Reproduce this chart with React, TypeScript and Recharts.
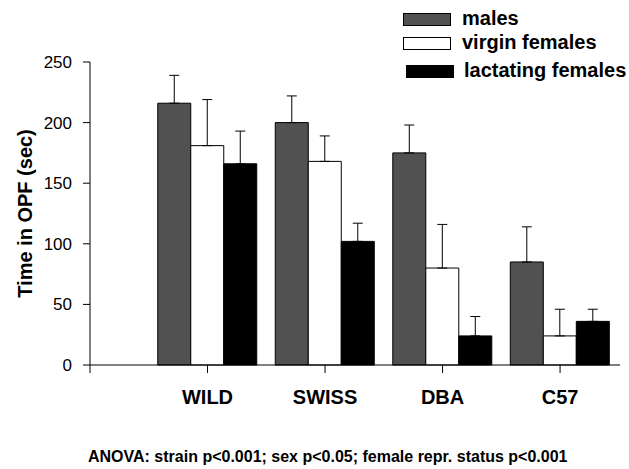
import React from "react"
import { BarChart, Bar, XAxis, YAxis, ErrorBar } from "recharts"

// strains along the x axis (0 is the empty slot at the axis start)
const strains = ["", "WILD", "SWISS", "DBA", "C57"]
const strainPos = [1, 2, 3, 4]

// mean time in OPF (sec)
const males = [216, 200, 175, 85]
const virginFemales = [181, 168, 80, 24]
const lactatingFemales = [166, 102, 24, 36]

// upper SEM bars
const malesErr = [23, 22, 23, 29]
const virginErr = [38, 21, 36, 22]
const lactatingErr = [27, 15, 16, 10]

const yTicks = [0, 50, 100, 150, 200, 250]
const xTicks = [0, 1, 2, 3, 4]

const data = strainPos.map((x, i) => ({
  x,
  males: males[i],
  virgin: virginFemales[i],
  lactating: lactatingFemales[i],
  malesErr: [0, malesErr[i]],
  virginErr: [0, virginErr[i]],
  lactatingErr: [0, lactatingErr[i]],
}))

const MALE_FILL = "#515151"
const font = "'Liberation Sans', Arial, Helvetica, sans-serif"

const legendRows = [
  { label: "males", fill: MALE_FILL, top: 13, left: 0, textLeft: 59 },
  { label: "virgin females", fill: "#fff", top: 37, left: 0, textLeft: 59 },
  { label: "lactating females", fill: "#000", top: 65, left: 3, textLeft: 61 },
]

// legend drawn as an overlay so it doesn't eat into the plot area
function LegendBox() {
  return (
    <div style={{ position: "absolute", left: 403, top: 0, width: 226, height: 90, fontFamily: font }}>
      {legendRows.map((r) => (
        <div key={r.label}>
          <div
            style={{
              position: "absolute",
              left: r.left,
              top: r.top,
              width: 46,
              height: 11,
              background: r.fill,
              border: "1px solid #000",
            }}
          />
          <div
            style={{
              position: "absolute",
              left: r.textLeft,
              top: r.top - 5,
              fontSize: 20,
              lineHeight: "20px",
              fontWeight: "bold",
              color: "#000",
              whiteSpace: "nowrap",
            }}
          >
            {r.label}
          </div>
        </div>
      ))}
    </div>
  )
}

export default function App() {
  return (
    <div style={{ position: "absolute", left: 0, top: 0, width: 629, height: 469, background: "#fff", fontFamily: font }}>
      <BarChart
        width={629}
        height={469}
        data={data}
        margin={{ top: 62, right: 9, bottom: 74, left: 0 }}
        barGap={0}
        barSize={33}
      >
        <XAxis
          dataKey="x"
          type="number"
          domain={[0, 4.51]}
          ticks={xTicks}
          interval={0}
          tickFormatter={(v: number) => strains[v] ?? ""}
          stroke="#000"
          tickSize={8}
          tickMargin={17}
          tick={{ fontSize: 20, fontWeight: "bold", fill: "#000", fontFamily: font }}
        />
        <YAxis
          domain={[0, 250]}
          ticks={yTicks}
          width={90}
          stroke="#000"
          tickSize={7}
          tickMargin={11}
          tick={{ fontSize: 17, fill: "#000", fontFamily: font }}
          label={{
            value: "Time in OPF (sec)",
            angle: -90,
            position: "insideLeft",
            offset: 25,
            style: { textAnchor: "middle", fontSize: 20, fontWeight: "bold", fill: "#000", fontFamily: font },
          }}
        />
        <Bar dataKey="males" name="males" fill={MALE_FILL} stroke="#000" strokeWidth={1} isAnimationActive={false}>
          <ErrorBar dataKey="malesErr" width={5} stroke="#000" strokeWidth={1} />
        </Bar>
        <Bar dataKey="virgin" name="virgin females" fill="#fff" stroke="#000" strokeWidth={1} isAnimationActive={false}>
          <ErrorBar dataKey="virginErr" width={5} stroke="#000" strokeWidth={1} />
        </Bar>
        <Bar dataKey="lactating" name="lactating females" fill="#000" stroke="#000" strokeWidth={1} isAnimationActive={false}>
          <ErrorBar dataKey="lactatingErr" width={5} stroke="#000" strokeWidth={1} />
        </Bar>
      </BarChart>
      <LegendBox />
      <div
        style={{
          position: "absolute",
          left: 88,
          top: 449,
          fontSize: 16,
          lineHeight: "16px",
          fontWeight: "bold",
          color: "#000",
          whiteSpace: "nowrap",
        }}
      >
        ANOVA: strain p&lt;0.001; sex p&lt;0.05; female repr. status p&lt;0.001
      </div>
    </div>
  )
}
